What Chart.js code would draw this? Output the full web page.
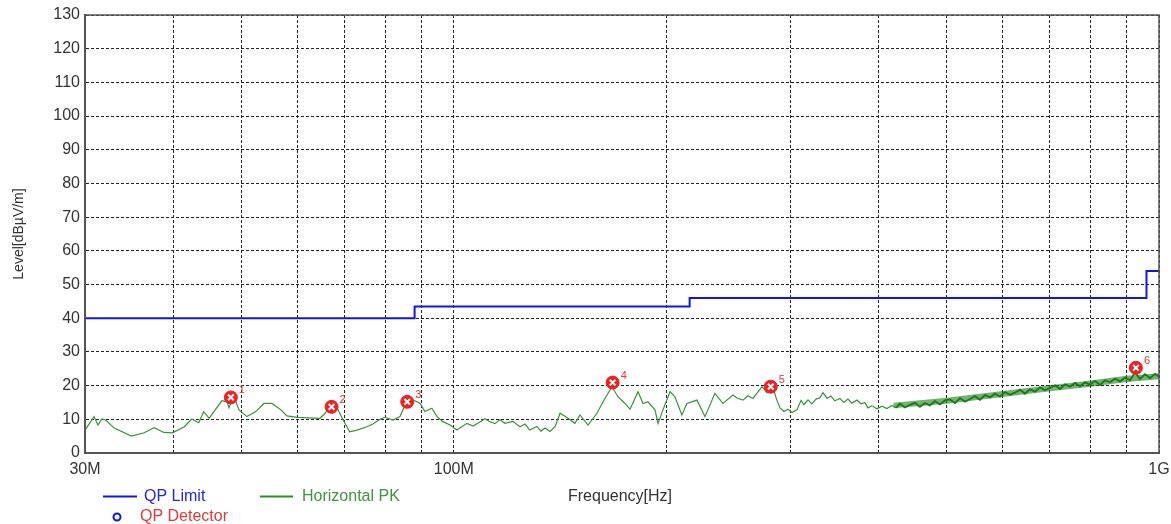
<!DOCTYPE html>
<html>
<head>
<meta charset="utf-8">
<script src="https://cdn.jsdelivr.net/npm/chart.js@4.4.1/dist/chart.umd.min.js"></script>
<style>
html, body { margin: 0; padding: 0; background: #fff; }
#wrap { width: 1171px; height: 524px; position: relative; }
</style>
</head>
<body>
<div id="wrap"><canvas id="emc"></canvas></div>
<script>
// ---------------- data (MHz / dBuV/m) ----------------
var traceFreq = [
  30, 30.9, 31.3, 31.7, 32.1, 33.0, 34.9, 36.4, 37.6, 38.8, 39.9, 41.5, 42.5, 43.5, 44.2, 45.0, 45.7,
  46.9, 47.7, 48.0, 48.5, 49.1, 49.6, 50.9, 52.4, 53.8, 55.2, 56.9, 58.0, 60.0, 64.6, 65.7, 66.8,
  68.3, 69.6, 71.2, 72.9, 75.3, 76.8, 78.6, 79.9, 82.0, 83.9, 84.7, 85.8, 88.1, 89.6, 91.0, 93.1,
  94.7, 96.5, 98.8, 101.0, 104.4, 106.5, 108.9, 110.7, 112.5, 114.4, 116.3, 118.2, 121.3, 124.1,
  126.2, 128.2, 131.2, 132.9, 134.7, 136.9, 139.2, 141.5, 145.2, 148.5, 151.0, 155.0, 159.6, 162.8,
  167.6, 170.9, 174.9, 177.8, 182.5, 185.5, 188.5, 192.9, 194.8, 198.0, 202.6, 205.9, 210.6, 214.1,
  221.2, 227.1, 234.6, 240.8, 248.8, 252.1, 257.1, 261.3, 265.6, 273.6, 278.0, 282.6, 287.2, 290.1,
  293.9, 297.8, 301.7, 306.6, 310.7, 313.7, 317.9, 322.0, 326.3, 330.5, 333.8, 338.2, 342.6, 347.1,
  352.8, 357.5, 362.2, 366.9, 373.0, 377.9, 382.8, 386.6, 391.7, 398.1, 404.7, 411.3, 418.1, 423.6,
  429.2, 436.3, 443.5, 450.8, 458.2, 465.8, 473.4, 481.2, 489.1, 497.2, 505.4, 513.7, 522.2, 530.8,
  539.5, 548.4, 557.4, 566.6, 575.9, 585.4, 595.0, 604.8, 614.8, 624.9, 635.2, 645.6, 656.3, 667.1,
  678.0, 689.2, 700.6, 712.1, 723.8, 735.7, 747.8, 760.1, 772.6, 785.4, 798.3, 811.4, 824.8, 838.4,
  852.2, 866.2, 880.5, 895.0, 909.7, 924.7, 939.9, 955.4, 971.1, 987.1, 1000
];
var traceLevel = [
  6.8, 10.8, 8.3, 10.1, 9.8, 7.4, 5.0, 6.0, 7.5, 6.1, 6.0, 7.8, 10.1, 9.0, 12.3, 10.3, 12.3,
  15.5, 15.2, 13.4, 15.7, 15.2, 12.8, 10.8, 12.3, 14.7, 14.7, 12.8, 11.0, 10.6, 10.3, 11.8, 13.9,
  13.4, 10.0, 6.3, 6.8, 7.8, 8.6, 10.0, 10.6, 9.8, 10.8, 12.8, 15.2, 15.5, 14.7, 12.3, 13.3,
  10.8, 9.3, 8.3, 6.8, 8.8, 8.0, 9.2, 10.2, 9.3, 8.7, 9.9, 8.8, 9.4, 7.8,
  8.6, 6.8, 7.9, 6.5, 7.4, 6.4, 7.8, 11.8, 10.3, 8.8, 11.3, 8.3, 11.8, 15.2,
  19.7, 16.7, 14.7, 13.0, 18.2, 14.7, 15.2, 12.8, 8.8, 12.8, 18.2, 16.7, 11.3, 14.7,
  15.7, 10.8, 17.7, 14.7, 17.2, 16.3, 15.7, 17.0, 16.2, 19.7, 17.9, 20.2, 15.7, 13.4,
  12.3, 13.0, 12.0, 12.8, 15.6, 14.4, 15.8, 14.6, 16.0, 16.4, 17.9, 16.2, 16.9, 15.5,
  16.2, 15.0, 16.0, 14.8, 15.7, 14.6, 15.0, 13.4, 14.0, 13.1, 13.9, 13.2, 14.1, 13.4,
  14.6, 13.5, 14.3, 14.9, 13.7, 14.8, 14.1, 15.4, 14.4, 15.6, 15.9, 14.8, 16.3, 15.2,
  16.0, 16.9, 15.8, 17.2, 16.5, 17.6, 16.7, 18.1, 17.3, 17.9, 18.8, 17.6, 18.9, 18.2,
  19.5, 18.6, 19.3, 20.1, 19.0, 20.4, 19.7, 20.8, 19.8, 21.0, 20.3, 21.4, 20.2, 21.6,
  21.0, 22.1, 21.2, 22.4, 21.6, 23.9, 22.0, 23.4, 22.2, 23.5, 22.6
];

// thickness of the noisy band above ~420 MHz
var bandFreq = [420, 500, 600, 700, 800, 900, 1000];
var bandHigh = [14.9, 16.4, 18.4, 20.1, 21.5, 22.9, 23.7];
var bandLow = [13.3, 14.6, 16.6, 18.3, 19.7, 21.1, 21.9];

var limitFreq = [30, 88, 88, 216, 216, 960, 960, 1000];
var limitLevel = [40, 40, 43.5, 43.5, 46, 46, 54, 54];

var markerFreq = [48.3, 67.1, 85.9, 168.0, 281.5, 927.3];
var markerLevel = [16.5, 13.7, 15.2, 20.9, 19.7, 25.3];
var markerNames = ['1', '2', '3', '4', '5', '6'];

var xGridVals = [30, 40, 50, 60, 70, 80, 90, 100, 200, 300, 400, 500, 600, 700, 800, 900, 1000];
var xTickVals = [30, 100, 1000];
var xTickText = ['30M', '100M', '1G'];

var FONT = "'Liberation Sans', Arial, sans-serif";

function pts(xs, ys) {
  return xs.map(function (x, i) { return { x: x, y: ys[i] }; });
}

// legend, axis titles, frame and marker numbers
var decor = {
  id: 'decor',
  afterDraw: function (chart) {
    var ctx = chart.ctx, a = chart.chartArea;
    ctx.save();
    ctx.strokeStyle = '#555';
    ctx.lineWidth = 1.5;
    ctx.strokeRect(a.left, a.top, a.right - a.left, a.bottom - a.top);

    // marker numbers
    var meta = chart.getDatasetMeta(1);
    ctx.fillStyle = '#e8332f';
    ctx.font = '11px ' + FONT;
    ctx.textBaseline = 'middle';
    ctx.textAlign = 'left';
    meta.data.forEach(function (p, i) {
      ctx.fillText(markerNames[i], p.x + 8, p.y - 7);
    });

    // y title
    ctx.save();
    ctx.translate(19, 234);
    ctx.rotate(-Math.PI / 2);
    ctx.textAlign = 'center';
    ctx.fillStyle = '#333';
    ctx.font = '14px ' + FONT;
    ctx.fillText('Level[dB\u00b5V/m]', 0, 0);
    ctx.restore();

    // legend
    ctx.lineWidth = 2;
    ctx.strokeStyle = '#1414e6';
    ctx.beginPath(); ctx.moveTo(103, 496.5); ctx.lineTo(137, 496.5); ctx.stroke();
    ctx.strokeStyle = '#2c8c2c';
    ctx.beginPath(); ctx.moveTo(260, 496.5); ctx.lineTo(293, 496.5); ctx.stroke();
    ctx.strokeStyle = '#1414e6';
    ctx.beginPath(); ctx.arc(117, 517, 3.5, 0, Math.PI * 2); ctx.stroke();

    ctx.font = '16px ' + FONT;
    ctx.textAlign = 'left';
    ctx.fillStyle = '#2828d2';
    ctx.fillText('QP Limit', 144, 497);
    ctx.fillStyle = '#3c963c';
    ctx.fillText('Horizontal PK', 302, 497);
    ctx.fillStyle = '#e03a3a';
    ctx.fillText('QP Detector', 140, 517);

    ctx.fillStyle = '#333';
    ctx.font = '16px ' + FONT;
    ctx.fillText('Frequency[Hz]', 568, 497);
    ctx.restore();
  }
};

new Chart(document.getElementById('emc'), {
  type: 'line',
  data: {
    datasets: [
      {
        label: 'marks',
        data: pts(markerFreq, markerLevel),
        showLine: false,
        pointStyle: 'crossRot',
        pointRadius: 4,
        borderColor: '#ffffff',
        borderWidth: 2,
        order: 0
      },
      {
        label: 'QP Detector',
        data: pts(markerFreq, markerLevel),
        showLine: false,
        pointStyle: 'circle',
        pointRadius: 6.5,
        backgroundColor: '#ee2020',
        borderColor: '#ee2020',
        borderWidth: 1,
        order: 1
      },
      {
        label: 'Horizontal PK',
        data: pts(traceFreq, traceLevel),
        borderColor: '#2c8c2c',
        borderWidth: 1.2,
        segment: {
          borderWidth: function (c) { return c.p0.parsed.x > 420 ? 1.8 : 1.2; },
          borderColor: function (c) { return c.p0.parsed.x > 420 ? '#187818' : '#3a923a'; }
        },
        pointRadius: 0,
        tension: 0,
        order: 2
      },
      {
        label: 'band top',
        data: pts(bandFreq, bandHigh),
        borderWidth: 0,
        pointRadius: 0,
        backgroundColor: 'rgba(30,130,30,0.62)',
        fill: '+1',
        order: 4
      },
      {
        label: 'band bottom',
        data: pts(bandFreq, bandLow),
        borderWidth: 0,
        pointRadius: 0,
        fill: false,
        order: 5
      },
      {
        label: 'QP Limit',
        data: pts(limitFreq, limitLevel),
        borderColor: '#1414e6',
        borderWidth: 2,
        pointRadius: 0,
        tension: 0,
        order: 3
      }
    ]
  },
  options: {
    responsive: true,
    maintainAspectRatio: false,
    animation: false,
    layout: { padding: { top: 15, right: 12, left: 0, bottom: 0 } },
    plugins: { legend: { display: false }, tooltip: { enabled: false }, filler: { propagate: false } },
    scales: {
      x: {
        type: 'logarithmic',
        min: 30,
        max: 1000,
        afterBuildTicks: function (s) {
          s.ticks = xGridVals.map(function (v) { return { value: v }; });
        },
        afterFit: function (s) {
          s.height = 71;
          s.paddingLeft = 0;
          s.paddingRight = 0;
        },
        ticks: {
          autoSkip: false,
          maxRotation: 0,
          padding: 7,
          color: '#333',
          font: { family: FONT, size: 16 },
          callback: function (v) {
            var i = xTickVals.indexOf(v);
            return i < 0 ? '' : xTickText[i];
          }
        },
        grid: { color: '#222', lineWidth: 1, drawTicks: false },
        border: { display: true, color: '#555', width: 2, dash: [3, 2] }
      },
      y: {
        min: 0,
        max: 130,
        afterFit: function (s) {
          s.width = 85;
          s.paddingTop = 0;
          s.paddingBottom = 0;
        },
        ticks: {
          stepSize: 10,
          padding: 5,
          color: '#333',
          font: { family: FONT, size: 16 }
        },
        grid: { color: '#222', lineWidth: 1, drawTicks: false },
        border: { display: true, color: '#555', width: 2, dash: [3, 2] }
      }
    }
  },
  plugins: [decor]
});
</script>
</body>
</html>
